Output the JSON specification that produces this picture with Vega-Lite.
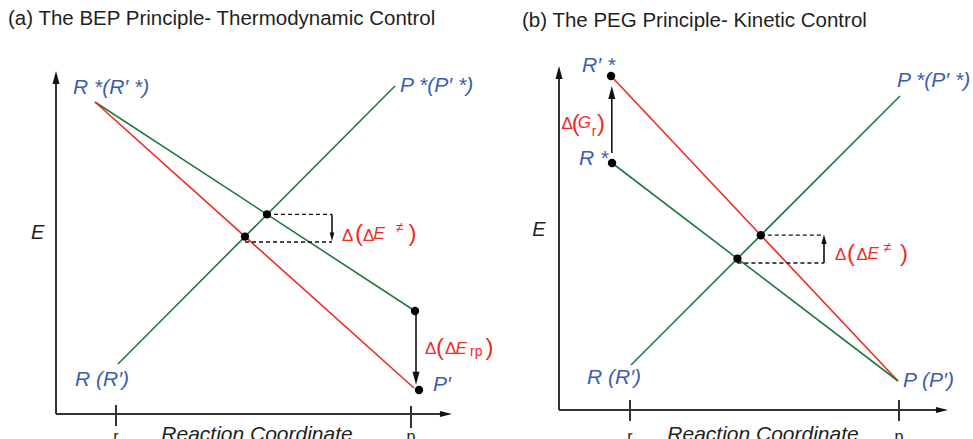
{
  "$schema": "https://vega.github.io/schema/vega-lite/v6.json",
  "background": "white",
  "padding": {"left": 8, "top": 8, "right": 0, "bottom": 0},
  "bounds": "flush",
  "spacing": 103,
  "resolve": {"scale": {"x": "independent", "y": "independent"}},
  "config": {
    "view": {"stroke": null},
    "font": "Liberation Sans",
    "title": {"font": "Liberation Sans", "fontSize": 20.5, "fontWeight": "normal", "color": "#231f20", "anchor": "start", "frame": "group", "baseline": "alphabetic"}
  },
  "datasets": {
    "axes": [
      {"panel": "a", "x": 0, "y": 0, "x2": 0, "y2": 84.5},
      {"panel": "a", "x": 0, "y": 0, "x2": 97.5, "y2": 0},
      {"panel": "a", "x": 15, "y": 2.25, "x2": 15, "y2": -3},
      {"panel": "a", "x": 88.75, "y": 2, "x2": 88.75, "y2": -3.5},
      {"panel": "b", "x": 0, "y": 0, "x2": 0, "y2": 84.5},
      {"panel": "b", "x": 0, "y": 0, "x2": 96, "y2": 0},
      {"panel": "b", "x": 17.75, "y": 2.5, "x2": 17.75, "y2": -2.75},
      {"panel": "b", "x": 85, "y": 2.5, "x2": 85, "y2": -2.75}
    ],
    "curves": [
      {"panel": "a", "system": "unprimed", "x": 9.75, "y": 78, "x2": 89.75, "y2": 25.75},
      {"panel": "a", "system": "primed", "x": 9.75, "y": 78, "x2": 89.5, "y2": 6.5},
      {"panel": "a", "system": "unprimed", "x": 15.5, "y": 12.5, "x2": 84.75, "y2": 82},
      {"panel": "b", "system": "primed", "x": 13, "y": 83.5, "x2": 84.75, "y2": 7.25},
      {"panel": "b", "system": "unprimed", "x": 13.25, "y": 61.75, "x2": 84.75, "y2": 7.25},
      {"panel": "b", "system": "unprimed", "x": 18, "y": 11.25, "x2": 85.25, "y2": 78.5}
    ],
    "guides": [
      {"panel": "a", "x": 52.75, "y": 49.9, "x2": 69, "y2": 49.9},
      {"panel": "a", "x": 47.25, "y": 43, "x2": 69, "y2": 43},
      {"panel": "b", "x": 50.45, "y": 43.7, "x2": 66.25, "y2": 43.7},
      {"panel": "b", "x": 44.6, "y": 36.75, "x2": 66.25, "y2": 36.75}
    ],
    "shafts": [
      {"panel": "a", "x": 69, "y": 49.9, "x2": 69, "y2": 44.5},
      {"panel": "a", "x": 90, "y": 25.75, "x2": 90, "y2": 9},
      {"panel": "b", "x": 66.25, "y": 36.75, "x2": 66.25, "y2": 42.5},
      {"panel": "b", "x": 13.2, "y": 64.25, "x2": 13.2, "y2": 79.5}
    ],
    "heads": [
      {"panel": "a", "head": "up", "x": 0, "y": 85.75},
      {"panel": "a", "head": "right", "x": 99, "y": 0},
      {"panel": "a", "head": "down-small", "x": 69, "y": 43.25},
      {"panel": "a", "head": "down", "x": 90, "y": 7.3},
      {"panel": "b", "head": "up", "x": 0, "y": 86},
      {"panel": "b", "head": "right", "x": 97.25, "y": 0},
      {"panel": "b", "head": "up-small", "x": 66.25, "y": 43.9},
      {"panel": "b", "head": "up", "x": 13.2, "y": 81}
    ],
    "dots": [
      {"panel": "a", "x": 52.75, "y": 49.9},
      {"panel": "a", "x": 47.25, "y": 44.35},
      {"panel": "a", "x": 89.75, "y": 25.75},
      {"panel": "a", "x": 90.75, "y": 6},
      {"panel": "b", "x": 13, "y": 83.5},
      {"panel": "b", "x": 13.25, "y": 61.75},
      {"panel": "b", "x": 50.45, "y": 43.7},
      {"panel": "b", "x": 44.6, "y": 37.85}
    ],
    "states": [
      {"panel": "a", "label": "R *(R′ *)", "x": 4.25, "y": 81.5},
      {"panel": "a", "label": "P *(P′ *)", "x": 86, "y": 82},
      {"panel": "a", "label": "R (R′)", "x": 4.75, "y": 8.5},
      {"panel": "a", "label": "P′", "x": 94.25, "y": 7.25},
      {"panel": "b", "label": "R′ *", "x": 5.75, "y": 86},
      {"panel": "b", "label": "R *", "x": 5, "y": 62.75},
      {"panel": "b", "label": "P *(P′ *)", "x": 84.5, "y": 82.25},
      {"panel": "b", "label": "R (R′)", "x": 7, "y": 8},
      {"panel": "b", "label": "P (P′)", "x": 86, "y": 7.25}
    ],
    "deltas": [
      {"panel": "a", "kind": "symbol", "text": "Δ", "x": 71.5, "y": 44.6},
      {"panel": "a", "kind": "bracket", "text": "(", "x": 74.75, "y": 45.05},
      {"panel": "a", "kind": "symbol", "text": "Δ", "x": 76.75, "y": 44.6},
      {"panel": "a", "kind": "variable", "text": "E", "x": 79.4, "y": 44.9},
      {"panel": "a", "kind": "index", "text": "≠", "x": 85, "y": 46.5},
      {"panel": "a", "kind": "bracket", "text": ")", "x": 88.1, "y": 45.05},
      {"panel": "a", "kind": "symbol", "text": "Δ", "x": 92.25, "y": 16.25},
      {"panel": "a", "kind": "bracket", "text": "(", "x": 95, "y": 16.5},
      {"panel": "a", "kind": "symbol", "text": "Δ", "x": 97.25, "y": 16.25},
      {"panel": "a", "kind": "variable", "text": "E", "x": 99.9, "y": 16.25},
      {"panel": "a", "kind": "index", "text": "rp", "x": 103.5, "y": 15.6},
      {"panel": "a", "kind": "bracket", "text": ")", "x": 107.4, "y": 16.5},
      {"panel": "b", "kind": "symbol", "text": "Δ", "x": 69, "y": 38.75},
      {"panel": "b", "kind": "bracket", "text": "(", "x": 72, "y": 38.9},
      {"panel": "b", "kind": "symbol", "text": "Δ", "x": 74.4, "y": 38.75},
      {"panel": "b", "kind": "variable", "text": "E", "x": 77.1, "y": 39},
      {"panel": "b", "kind": "index", "text": "≠", "x": 81.2, "y": 40.6},
      {"panel": "b", "kind": "bracket", "text": ")", "x": 85.25, "y": 38.9},
      {"panel": "b", "kind": "symbol", "text": "Δ", "x": 0.6, "y": 71.5},
      {"panel": "b", "kind": "bracket", "text": "(", "x": 3.2, "y": 71.6},
      {"panel": "b", "kind": "variable", "text": "G", "x": 4.7, "y": 71.75},
      {"panel": "b", "kind": "index", "text": "r", "x": 8.2, "y": 69.6},
      {"panel": "b", "kind": "bracket", "text": ")", "x": 9.5, "y": 71.6}
    ],
    "axisText": [
      {"panel": "a", "role": "energy", "text": "E", "x": -4.6, "y": 45.25},
      {"panel": "a", "role": "tick", "text": "r", "x": 15, "y": -6.9},
      {"panel": "a", "role": "tick", "text": "p", "x": 88.75, "y": -6.9},
      {"panel": "a", "role": "coordinate", "text": "Reaction Coordinate", "x": 50.25, "y": -6.75},
      {"panel": "b", "role": "energy", "text": "E", "x": -5, "y": 45},
      {"panel": "b", "role": "tick", "text": "r", "x": 17.75, "y": -7.9},
      {"panel": "b", "role": "tick", "text": "p", "x": 85, "y": -7.9},
      {"panel": "b", "role": "coordinate", "text": "Reaction Coordinate", "x": 51, "y": -7.75}
    ]
  },
  "hconcat": [
    {
      "title": {"text": "(a) The BEP Principle- Thermodynamic Control", "dx": -48, "offset": 34},
      "width": 400,
      "height": 360,
      "encoding": {
        "x": {"field": "x", "type": "quantitative", "axis": null, "scale": {"domain": [0, 100], "nice": false, "zero": false}},
        "y": {"field": "y", "type": "quantitative", "axis": null, "scale": {"domain": [-2.25, 87.75], "nice": false, "zero": false}}
      },
      "layer": [
        {"data": {"name": "axes"}, "transform": [{"filter": "datum.panel == 'a'"}],
         "mark": {"type": "rule", "color": "#333333", "strokeWidth": 2},
         "encoding": {"x2": {"field": "x2"}, "y2": {"field": "y2"}}},
        {"data": {"name": "curves"}, "transform": [{"filter": "datum.panel == 'a'"}],
         "mark": {"type": "rule", "strokeWidth": 1.6},
         "encoding": {"x2": {"field": "x2"}, "y2": {"field": "y2"},
           "color": {"field": "system", "type": "nominal", "legend": null, "scale": {"domain": ["unprimed", "primed"], "range": ["#1f7a3c", "#ee2a24"]}}}},
        {"data": {"name": "guides"}, "transform": [{"filter": "datum.panel == 'a'"}],
         "mark": {"type": "rule", "color": "#111111", "strokeWidth": 1.3, "strokeDash": [4, 3]},
         "encoding": {"x2": {"field": "x2"}, "y2": {"field": "y2"}}},
        {"data": {"name": "shafts"}, "transform": [{"filter": "datum.panel == 'a'"}],
         "mark": {"type": "rule", "color": "#111111", "strokeWidth": 1.6},
         "encoding": {"x2": {"field": "x2"}, "y2": {"field": "y2"}}},
        {"data": {"name": "heads"}, "transform": [{"filter": "datum.panel == 'a'"}],
         "mark": {"type": "point", "filled": true, "size": 784, "color": "#111111", "opacity": 1, "strokeWidth": 0},
         "encoding": {"shape": {"field": "head", "type": "nominal", "legend": null,
           "scale": {"domain": ["up", "down", "right", "up-small", "down-small"],
                     "range": ["M0,0L-0.25,0.93L0.25,0.93Z", "M0,0L-0.25,-0.93L0.25,-0.93Z", "M0,0L-0.86,-0.21L-0.86,0.21Z", "M0,0L-0.19,0.68L0.19,0.68Z", "M0,0L-0.17,-0.6L0.17,-0.6Z"]}}}},
        {"data": {"name": "dots"}, "transform": [{"filter": "datum.panel == 'a'"}],
         "mark": {"type": "circle", "size": 70, "color": "#000000", "opacity": 1}},
        {"data": {"name": "states"}, "transform": [{"filter": "datum.panel == 'a'"}],
         "mark": {"type": "text", "font": "Liberation Sans", "fontSize": 21, "fontStyle": "italic", "color": "#3b5cb0", "align": "left", "baseline": "middle"},
         "encoding": {"text": {"field": "label"}}},
        {"data": {"name": "deltas"}, "transform": [{"filter": "datum.panel == 'a' && datum.kind == 'symbol'"}],
         "mark": {"type": "text", "font": "Liberation Sans", "fontSize": 17, "color": "#ee2a24", "align": "left", "baseline": "middle"},
         "encoding": {"text": {"field": "text"}}},
        {"data": {"name": "deltas"}, "transform": [{"filter": "datum.panel == 'a' && datum.kind == 'bracket'"}],
         "mark": {"type": "text", "font": "Liberation Sans", "fontSize": 24, "color": "#ee2a24", "align": "left", "baseline": "middle"},
         "encoding": {"text": {"field": "text"}}},
        {"data": {"name": "deltas"}, "transform": [{"filter": "datum.panel == 'a' && datum.kind == 'variable'"}],
         "mark": {"type": "text", "font": "Liberation Sans", "fontSize": 17, "fontStyle": "italic", "color": "#ee2a24", "align": "left", "baseline": "middle"},
         "encoding": {"text": {"field": "text"}}},
        {"data": {"name": "deltas"}, "transform": [{"filter": "datum.panel == 'a' && datum.kind == 'index'"}],
         "mark": {"type": "text", "font": "Liberation Sans", "fontSize": 14, "color": "#ee2a24", "align": "left", "baseline": "middle"},
         "encoding": {"text": {"field": "text"}}},
        {"data": {"name": "axisText"}, "transform": [{"filter": "datum.panel == 'a' && datum.role == 'energy'"}],
         "mark": {"type": "text", "font": "Liberation Sans", "fontSize": 20, "fontStyle": "italic", "color": "#231f20", "align": "center", "baseline": "middle"},
         "encoding": {"text": {"field": "text"}}},
        {"data": {"name": "axisText"}, "transform": [{"filter": "datum.panel == 'a' && datum.role == 'tick'"}],
         "mark": {"type": "text", "font": "Liberation Sans", "fontSize": 16, "color": "#231f20", "align": "center", "baseline": "alphabetic"},
         "encoding": {"text": {"field": "text"}}},
        {"data": {"name": "axisText"}, "transform": [{"filter": "datum.panel == 'a' && datum.role == 'coordinate'"}],
         "mark": {"type": "text", "font": "Liberation Sans", "fontSize": 21, "fontStyle": "italic", "color": "#231f20", "align": "center", "baseline": "alphabetic"},
         "encoding": {"text": {"field": "text"}}}
      ]
    },
    {
      "title": {"text": "(b) The PEG Principle- Kinetic Control", "dx": -37, "offset": 24},
      "width": 400,
      "height": 360,
      "encoding": {
        "x": {"field": "x", "type": "quantitative", "axis": null, "scale": {"domain": [0, 100], "nice": false, "zero": false}},
        "y": {"field": "y", "type": "quantitative", "axis": null, "scale": {"domain": [-3.25, 86.75], "nice": false, "zero": false}}
      },
      "layer": [
        {"data": {"name": "axes"}, "transform": [{"filter": "datum.panel == 'b'"}],
         "mark": {"type": "rule", "color": "#333333", "strokeWidth": 2},
         "encoding": {"x2": {"field": "x2"}, "y2": {"field": "y2"}}},
        {"data": {"name": "curves"}, "transform": [{"filter": "datum.panel == 'b'"}],
         "mark": {"type": "rule", "strokeWidth": 1.6},
         "encoding": {"x2": {"field": "x2"}, "y2": {"field": "y2"},
           "color": {"field": "system", "type": "nominal", "legend": null, "scale": {"domain": ["unprimed", "primed"], "range": ["#1f7a3c", "#ee2a24"]}}}},
        {"data": {"name": "guides"}, "transform": [{"filter": "datum.panel == 'b'"}],
         "mark": {"type": "rule", "color": "#111111", "strokeWidth": 1.3, "strokeDash": [4, 3]},
         "encoding": {"x2": {"field": "x2"}, "y2": {"field": "y2"}}},
        {"data": {"name": "shafts"}, "transform": [{"filter": "datum.panel == 'b'"}],
         "mark": {"type": "rule", "color": "#111111", "strokeWidth": 1.6},
         "encoding": {"x2": {"field": "x2"}, "y2": {"field": "y2"}}},
        {"data": {"name": "heads"}, "transform": [{"filter": "datum.panel == 'b'"}],
         "mark": {"type": "point", "filled": true, "size": 784, "color": "#111111", "opacity": 1, "strokeWidth": 0},
         "encoding": {"shape": {"field": "head", "type": "nominal", "legend": null,
           "scale": {"domain": ["up", "down", "right", "up-small", "down-small"],
                     "range": ["M0,0L-0.25,0.93L0.25,0.93Z", "M0,0L-0.25,-0.93L0.25,-0.93Z", "M0,0L-0.86,-0.21L-0.86,0.21Z", "M0,0L-0.19,0.68L0.19,0.68Z", "M0,0L-0.17,-0.6L0.17,-0.6Z"]}}}},
        {"data": {"name": "dots"}, "transform": [{"filter": "datum.panel == 'b'"}],
         "mark": {"type": "circle", "size": 70, "color": "#000000", "opacity": 1}},
        {"data": {"name": "states"}, "transform": [{"filter": "datum.panel == 'b'"}],
         "mark": {"type": "text", "font": "Liberation Sans", "fontSize": 21, "fontStyle": "italic", "color": "#3b5cb0", "align": "left", "baseline": "middle"},
         "encoding": {"text": {"field": "label"}}},
        {"data": {"name": "deltas"}, "transform": [{"filter": "datum.panel == 'b' && datum.kind == 'symbol'"}],
         "mark": {"type": "text", "font": "Liberation Sans", "fontSize": 17, "color": "#ee2a24", "align": "left", "baseline": "middle"},
         "encoding": {"text": {"field": "text"}}},
        {"data": {"name": "deltas"}, "transform": [{"filter": "datum.panel == 'b' && datum.kind == 'bracket'"}],
         "mark": {"type": "text", "font": "Liberation Sans", "fontSize": 24, "color": "#ee2a24", "align": "left", "baseline": "middle"},
         "encoding": {"text": {"field": "text"}}},
        {"data": {"name": "deltas"}, "transform": [{"filter": "datum.panel == 'b' && datum.kind == 'variable'"}],
         "mark": {"type": "text", "font": "Liberation Sans", "fontSize": 17, "fontStyle": "italic", "color": "#ee2a24", "align": "left", "baseline": "middle"},
         "encoding": {"text": {"field": "text"}}},
        {"data": {"name": "deltas"}, "transform": [{"filter": "datum.panel == 'b' && datum.kind == 'index'"}],
         "mark": {"type": "text", "font": "Liberation Sans", "fontSize": 14, "color": "#ee2a24", "align": "left", "baseline": "middle"},
         "encoding": {"text": {"field": "text"}}},
        {"data": {"name": "axisText"}, "transform": [{"filter": "datum.panel == 'b' && datum.role == 'energy'"}],
         "mark": {"type": "text", "font": "Liberation Sans", "fontSize": 20, "fontStyle": "italic", "color": "#231f20", "align": "center", "baseline": "middle"},
         "encoding": {"text": {"field": "text"}}},
        {"data": {"name": "axisText"}, "transform": [{"filter": "datum.panel == 'b' && datum.role == 'tick'"}],
         "mark": {"type": "text", "font": "Liberation Sans", "fontSize": 16, "color": "#231f20", "align": "center", "baseline": "alphabetic"},
         "encoding": {"text": {"field": "text"}}},
        {"data": {"name": "axisText"}, "transform": [{"filter": "datum.panel == 'b' && datum.role == 'coordinate'"}],
         "mark": {"type": "text", "font": "Liberation Sans", "fontSize": 21, "fontStyle": "italic", "color": "#231f20", "align": "center", "baseline": "alphabetic"},
         "encoding": {"text": {"field": "text"}}}
      ]
    }
  ]
}
